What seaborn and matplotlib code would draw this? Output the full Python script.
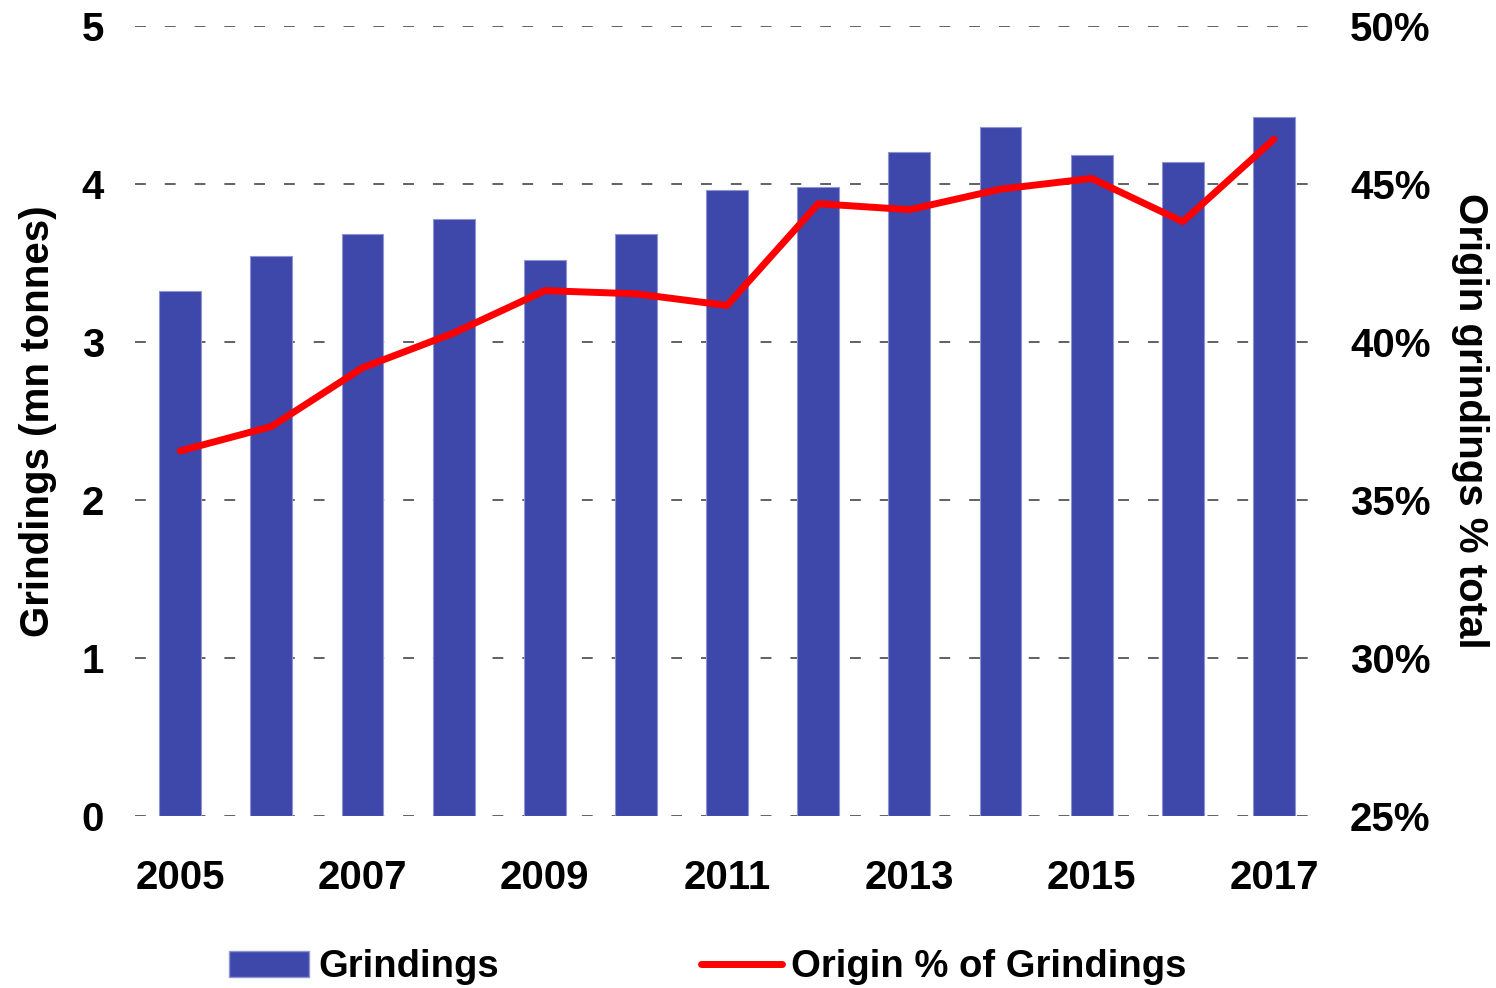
import numpy as np
import pandas as pd
import matplotlib
matplotlib.use("Agg")
import matplotlib.pyplot as plt
import seaborn as sns
from matplotlib.ticker import FuncFormatter
from matplotlib.patches import Patch
from matplotlib.lines import Line2D

years = [str(y) for y in range(2005, 2018)]
grindings = [3.32, 3.54, 3.68, 3.78, 3.52, 3.68, 3.96, 3.98, 4.20, 4.36, 4.18, 4.14, 4.42]
origin_pct = [36.55, 37.32, 39.18, 40.28, 41.62, 41.52, 41.15, 44.37, 44.18, 44.83, 45.17, 43.80, 46.41]

bar_color = '#3e47aa'
line_color = '#ff0000'

sns.set_theme(style='white')
plt.rcParams['font.family'] = ['Liberation Sans', 'DejaVu Sans']
plt.rcParams['font.weight'] = 'bold'
plt.rcParams['text.color'] = 'black'
plt.rcParams['axes.labelcolor'] = 'black'
plt.rcParams['xtick.color'] = 'black'
plt.rcParams['ytick.color'] = 'black'
fs = 29

df = pd.DataFrame({'year': years, 'grindings': grindings, 'pct': origin_pct})

fig = plt.figure(figsize=(14.96, 9.88), dpi=100)
ax = fig.add_axes([0.090, 0.174, 0.792, 0.800])

sns.barplot(data=df, x='year', y='grindings', color=bar_color, width=0.46,
            saturation=1, edgecolor='#8f95d0', linewidth=0.8, ax=ax, zorder=2)
ax.set_ylim(0, 5)
ax.set_yticks(range(0, 6))
ax.yaxis.grid(True, linestyle=(0, (6, 10.5)), color='#555555', linewidth=1.3, zorder=0)
ax.set_axisbelow(True)
ax.set_xlim(-0.5, len(years) - 0.5)
ax.set_xticks(range(0, len(years), 2))
ax.set_xticklabels(years[::2])
ax.set_xlabel('')
ax.set_ylabel('Grindings (mn tonnes)', fontsize=fs, fontweight='bold', labelpad=18)
ax.tick_params(axis='both', length=0, labelsize=fs)
ax.tick_params(axis='x', pad=31)
ax.tick_params(axis='y', pad=22)

ax2 = ax.twinx()
sns.lineplot(x=np.arange(len(years)), y=df['pct'], color=line_color, linewidth=5,
             ax=ax2, zorder=3)
ax2.set_ylim(25, 50)
ax2.set_yticks(range(25, 51, 5))
ax2.yaxis.set_major_formatter(FuncFormatter(lambda v, p: f'{int(v)}%'))
ax2.tick_params(axis='y', length=0, labelsize=fs, pad=22)
ax2.set_ylabel('Origin grindings % total', fontsize=fs, fontweight='bold',
               rotation=-90, labelpad=42)
ax2.set_xlim(-0.5, len(years) - 0.5)

for a in (ax, ax2):
    for s in a.spines.values():
        s.set_visible(False)
    for lbl in a.get_xticklabels() + a.get_yticklabels():
        lbl.set_fontweight('bold')

handles = [Patch(facecolor=bar_color, edgecolor='#8f95d0'),
           Line2D([0], [0], color=line_color, linewidth=5)]
fig.legend(handles, ['Grindings', 'Origin % of Grindings'], loc='center',
           bbox_to_anchor=(0.473, 0.021), ncol=2, frameon=False,
           prop={'size': 27.5, 'weight': 'bold'}, handlelength=2.1,
           handleheight=0.7, handletextpad=0.25, columnspacing=5.3)

fig.savefig('out.png', dpi=100)
